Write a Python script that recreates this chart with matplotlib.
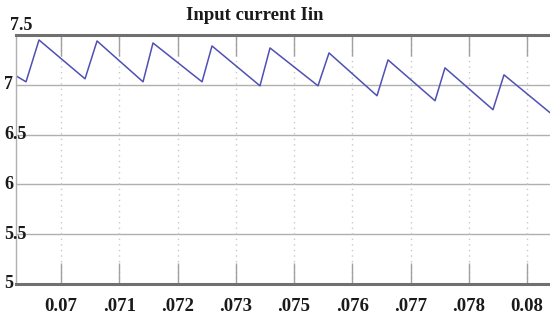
import matplotlib.pyplot as plt
from matplotlib.transforms import blended_transform_factory

# waveform vertices (time in s, current in A)
t = [0.069227, 0.069399, 0.069622, 0.070412, 0.070618, 0.071408, 0.071579,
     0.072421, 0.072592, 0.073416, 0.073588, 0.074412, 0.074601, 0.075425,
     0.075614, 0.076421, 0.076592, 0.077416, 0.077605, 0.078395]
iin = [7.09, 7.03, 7.45, 7.06, 7.44, 7.03, 7.42,
       7.03, 7.39, 6.99, 7.37, 6.99, 7.32, 6.89,
       7.25, 6.84, 7.17, 6.75, 7.10, 6.72]

x_ticks = [0.070, 0.071, 0.072, 0.073, 0.074, 0.075, 0.076, 0.077, 0.078]
x_labels = ['0.07', '.071', '.072', '.073', '.075', '.076', '.077', '.078', '0.08']
y_ticks = [5, 5.5, 6, 6.5, 7, 7.5]
y_labels = ['5', '5.5', '6', '6.5', '7', '7.5']

plt.rcParams['font.family'] = ['Liberation Serif', 'DejaVu Serif']

fig = plt.figure(figsize=(5.5, 3.2), dpi=100)
ax = fig.add_axes([16 / 550, 36 / 320, 1 - 16 / 550, 249 / 320])

ax.plot(t, iin, color='#5050b4', lw=1.1)

ax.set_xlim(0.069227, 0.078395)
ax.set_ylim(5, 7.5)

# horizontal solid grid, vertical dotted grid
for y in y_ticks[1:-1]:
    ax.axhline(y, color='#b0b0b0', lw=1.0, zorder=0)
for x in x_ticks:
    ax.axvline(x, color='#c8c8c8', lw=1.0, ls=(0, (1, 3)), zorder=0)

ax.set_xticks(x_ticks)
ax.set_xticklabels(x_labels, fontsize=13.5, fontweight='bold')
ax.tick_params(axis='x', direction='in', length=15, width=1.0, color='#a0a0a0',
               top=True, bottom=True, pad=10)
for lab in ax.get_xticklabels():
    lab.set_color('#1a1a1a')

ax.set_yticks([])
trans = blended_transform_factory(fig.transFigure, ax.transData)
for y, lab in zip(y_ticks, y_labels):
    dy, x0 = (0.10, 10 / 550) if y == 7.5 else (0.0, 4 / 550)
    ax.text(x0, y + dy, lab, transform=trans, ha='left', va='center',
            fontsize=13, fontweight='bold', color='#1a1a1a', clip_on=False)

for side in ['top', 'bottom']:
    ax.spines[side].set_color('#707070')
    ax.spines[side].set_linewidth(2.2)
ax.spines['left'].set_color('#b0b0b0')
ax.spines['left'].set_linewidth(1.0)
ax.spines['right'].set_visible(False)

fig.text(255 / 550, 1 - 16 / 320, 'Input current Iin', ha='center', va='center',
         fontsize=13.5, fontweight='bold', color='#1a1a1a')

fig.savefig('out.png', dpi=100)
